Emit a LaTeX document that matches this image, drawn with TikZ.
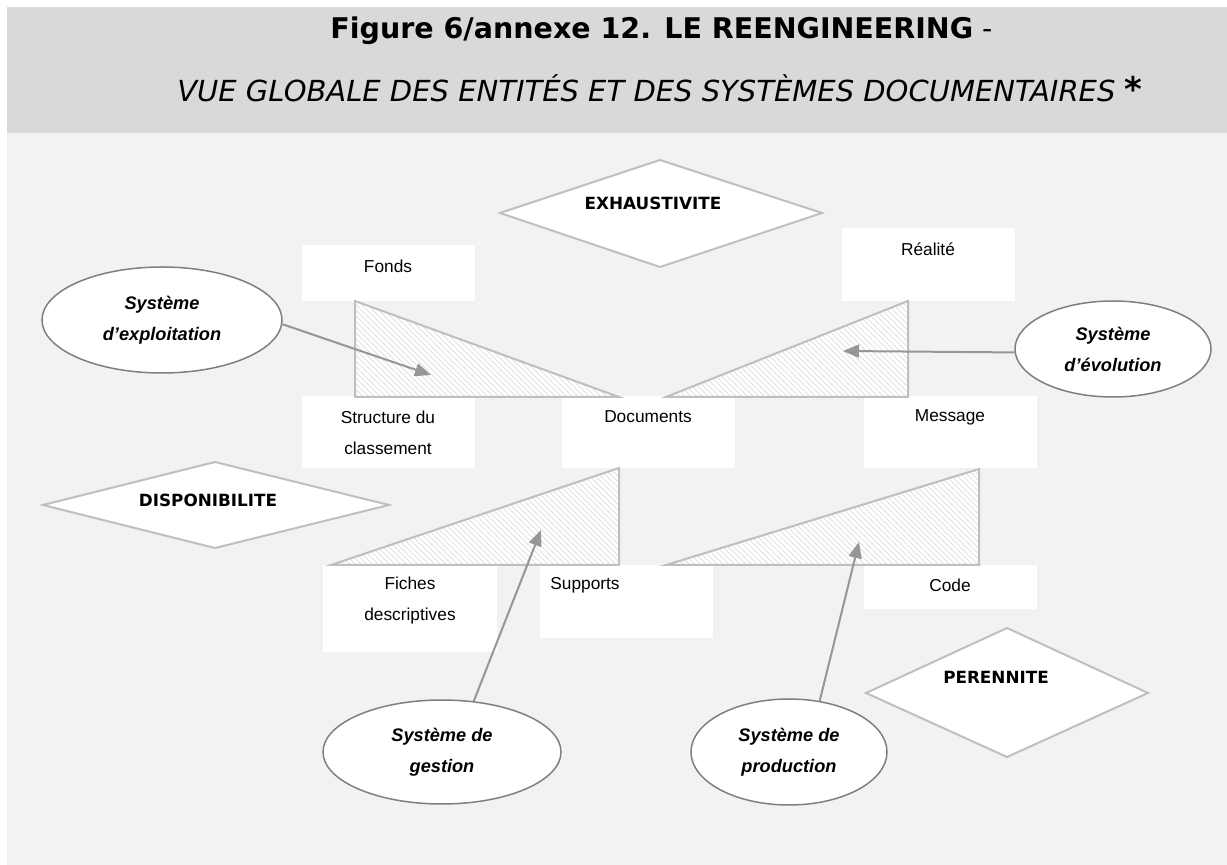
\documentclass[tikz,border=0pt]{standalone}
\usepackage{fontspec}
\setmainfont{Liberation Sans}
\newfontfamily\tahomafont{DejaVu Sans}
\usepackage{xcolor}
\usepackage{tikz}
\usetikzlibrary{shapes.geometric,arrows.meta,patterns.meta}

\definecolor{bandgray}{HTML}{D9D9D9}
\definecolor{bodygray}{HTML}{F2F2F2}
\definecolor{edgegray}{HTML}{BFBFBF}
\definecolor{ringgray}{HTML}{7F7F7F}
\definecolor{arrowgray}{HTML}{969696}
\definecolor{hatchgray}{HTML}{DCDCDC}

\tikzset{
  txt/.style={font=\fontsize{8.65}{15.5}\selectfont, align=center, inner sep=0pt},
  crit/.style={font=\tahomafont\bfseries\fontsize{8.4}{10}\selectfont, inner sep=0pt},
  sys/.style={ellipse, draw=ringgray, line width=0.75pt, fill=white, inner sep=0pt,
    font=\bfseries\itshape\fontsize{9.1}{15.5}\selectfont, align=center},
  wedge/.style={draw=edgegray, line width=1pt, preaction={fill=white},
    pattern={Lines[angle=-45,distance=2pt,line width=0.35pt]}, pattern color=hatchgray},
  losange/.style={draw=edgegray, line width=1pt, fill=white},
  flow/.style={draw=arrowgray, line width=1pt, -{Triangle[length=8pt,width=6.5pt]}}
}

\begin{document}
\begin{tikzpicture}[x=0.5pt,y=-0.5pt]
    \useasboundingbox (0,0) rectangle (1227,865);

    % Background
    \fill[bandgray] (7,7) rectangle (1227,133);
    \fill[bodygray] (7,133) rectangle (1227,865);

    % Title
    \node[anchor=base west, inner sep=0pt, font=\tahomafont\fontsize{14.25}{16}\selectfont] (title) at (330,39)
        {\textbf{Figure 6/annexe 12. LE REENGINEERING} -};
    \node[anchor=base west, inner sep=0pt, font=\tahomafont\fontsize{14.5}{16}\selectfont] (subtitle) at (177,102)
        {\textit{VUE GLOBALE DES ENTITÉS ET DES SYSTÈMES DOCUMENTAIRES} \textbf{\fontsize{17}{16}\selectfont *}};

    % Criteria
    \draw[losange] (500,213) -- (660,160) -- (822,213) -- (660,267) -- cycle;
    \node[crit] (exhaust) at (653,203) {EXHAUSTIVITE};
    \draw[losange] (43,505) -- (215,462) -- (389,505) -- (215,548) -- cycle;
    \node[crit] (dispo) at (208,500) {DISPONIBILITE};
    \draw[losange] (866,693) -- (1007,628) -- (1148,693) -- (1007,757) -- cycle;
    \node[crit] (perenne) at (996,677) {PERENNITE};

    % Entity boxes
    \fill[white] (302,245) rectangle (475,301);
    \node[txt] (fonds) at (388,266) {Fonds};
    \fill[white] (842,228) rectangle (1015,301);
    \node[txt] (realite) at (928,249) {Réalité};
    \fill[white] (302,396) rectangle (475,468);
    \node[txt] (structure) at (388,433) {Structure du\\classement};
    \fill[white] (562,396) rectangle (735,468);
    \node[txt] (documents) at (648,417) {Documents};
    \fill[white] (864,396) rectangle (1037,468);
    \node[txt] (message) at (950,417) {Message};
    \fill[white] (323,565) rectangle (497,652);
    \node[txt] (fiches) at (410,601) {Fiches\\descriptives};
    \fill[white] (540,565) rectangle (713,638);
    \node[txt] (supports) at (585,585) {Supports};
    \fill[white] (864,565) rectangle (1037,609);
    \node[txt] (code) at (950,585) {Code};

    % Hatched wedges
    \draw[wedge] (355,301) -- (355,397) -- (619,397) -- cycle;
    \draw[wedge] (908,301) -- (908,397) -- (666,397) -- cycle;
    \draw[wedge] (619,468) -- (619,565) -- (331,565) -- cycle;
    \draw[wedge] (979,469) -- (979,565) -- (666,565) -- cycle;

    % Systems
    \node[sys, minimum width=120pt, minimum height=53pt] (exploit) at (162,320) {Système\\d’exploitation};
    \node[sys, minimum width=98pt, minimum height=48pt] (evol) at (1113,349) {Système\\d’évolution};
    \node[sys, minimum width=119pt, minimum height=52pt] (gestion) at (442,752) {Système de\\gestion};
    \node[sys, minimum width=98pt, minimum height=53pt] (prod) at (789,752) {Système de\\production};

    % Arrow tips
    \coordinate (exploittip) at (431,375);
    \coordinate (evoltip) at (843,351);
    \coordinate (gestiontip) at (541,530);
    \coordinate (prodtip) at (859,542);

    \draw[flow] (exploit.-2) -- (exploittip);
    \draw[flow] (evol.182) -- (evoltip);
    \draw[flow] (gestion.58) -- (gestiontip);
    \draw[flow] (prod.59) -- (prodtip);

\end{tikzpicture}
\end{document}
